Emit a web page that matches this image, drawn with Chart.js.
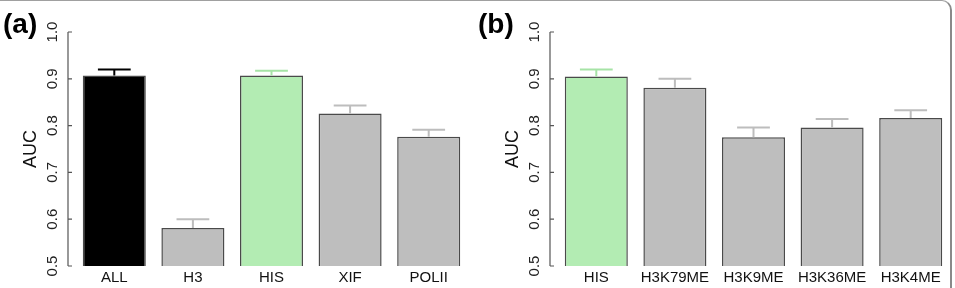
<!DOCTYPE html>
<html>
<head>
<meta charset="utf-8">
<script src="https://cdn.jsdelivr.net/npm/chart.js@4"></script>
<style>
  html, body { margin: 0; padding: 0; background: #fff; }
  #wrap { position: relative; width: 955px; height: 288px; overflow: hidden; }
  #frame { position: absolute; left: -20px; top: 0; width: 972px; height: 320px;
           border-top: 1.5px solid #a0a0a0; border-right: 2px solid #8a8a8a;
           border-top-right-radius: 10px; box-sizing: border-box; }
  canvas { position: absolute; top: 0; }
  #cA { left: 0; }
  #cB { left: 477px; }
</style>
</head>
<body>
<div id="wrap">
  <div id="frame"></div>
  <canvas id="cA" width="477" height="288"></canvas>
  <canvas id="cB" width="478" height="288"></canvas>
</div>
<script>
// datos
const catsA = ["ALL", "H3", "HIS", "XIF", "POLII"];
const aucA = [0.907, 0.581, 0.907, 0.826, 0.776];
const errTopA = [0.920, 0.600, 0.917, 0.843, 0.791];

const catsB = ["HIS", "H3K79ME", "H3K9ME", "H3K36ME", "H3K4ME"];
const aucB = [0.905, 0.881, 0.775, 0.796, 0.816];
const errTopB = [0.920, 0.900, 0.796, 0.814, 0.833];

const yTicks = [0.5, 0.6, 0.7, 0.8, 0.9, 1.0];

const NEGRO = "#000000";
const VERDE = "#b3ecb3";
const GRIS = "#bebebe";

function colorBarra(c) {
  if (c === "ALL") return NEGRO;
  if (c === "HIS") return VERDE;
  return GRIS;
}
function colorError(c) {
  if (c === "ALL") return "#000000";
  if (c === "HIS") return "#a6e3a6";
  return "#bdbdbd";
}

// eje y estilo R + barras de error + etiqueta del panel
const ejeR = {
  id: "ejeR",
  afterDatasetsDraw(chart, args, opts) {
    const ctx = chart.ctx;
    const y = chart.scales.y;
    const x = chart.scales.x;
    const ax = chart.chartArea.left - opts.gap;

    // barras de error
    const meta = chart.getDatasetMeta(0);
    opts.errTop.forEach((v, i) => {
      const bar = meta.data[i];
      const yt = y.getPixelForValue(v);
      const yb = y.getPixelForValue(opts.vals[i]);
      const half = bar.width * 0.26;
      ctx.save();
      ctx.strokeStyle = colorError(opts.cats[i]);
      ctx.lineWidth = 2;
      ctx.beginPath();
      ctx.moveTo(bar.x, yb);
      ctx.lineTo(bar.x, yt);
      ctx.moveTo(bar.x - half, yt);
      ctx.lineTo(bar.x + half, yt);
      ctx.stroke();
      ctx.restore();
    });

    // linea del eje y marcas
    ctx.save();
    ctx.strokeStyle = "#555";
    ctx.lineWidth = 1.2;
    ctx.beginPath();
    ctx.moveTo(ax, y.getPixelForValue(yTicks[0]));
    ctx.lineTo(ax, y.getPixelForValue(yTicks[yTicks.length - 1]));
    yTicks.forEach(t => {
      const py = y.getPixelForValue(t);
      ctx.moveTo(ax, py);
      ctx.lineTo(ax + 4, py);
    });
    ctx.stroke();

    // etiquetas rotadas
    ctx.fillStyle = "#222";
    ctx.font = "15px 'Liberation Sans', Arial, sans-serif";
    ctx.textAlign = "center";
    ctx.textBaseline = "middle";
    yTicks.forEach(t => {
      const py = y.getPixelForValue(t);
      ctx.save();
      ctx.translate(ax - 15.5, py);
      ctx.rotate(-Math.PI / 2);
      ctx.fillText(t.toFixed(1), 0, 0);
      ctx.restore();
    });

    // titulo del eje
    ctx.font = "18px 'Liberation Sans', Arial, sans-serif";
    ctx.fillStyle = "#111";
    ctx.save();
    ctx.translate(ax - 36.5, (y.top + y.bottom) / 2);
    ctx.rotate(-Math.PI / 2);
    ctx.fillText("AUC", 0, 0);
    ctx.restore();

    // etiqueta del panel
    ctx.font = "bold 28px 'Liberation Sans', Arial, sans-serif";
    ctx.textAlign = "left";
    ctx.textBaseline = "alphabetic";
    ctx.fillStyle = "#000";
    ctx.fillText(opts.panel, opts.panelX, 33);
    ctx.restore();
  }
};

function crearPanel(id, cats, vals, errTop, panel, padLeft, padRight, panelX) {
  return new Chart(document.getElementById(id), {
    type: "bar",
    data: {
      labels: cats,
      datasets: [{
        data: vals,
        backgroundColor: cats.map(colorBarra),
        borderColor: "#4a4a4a",
        borderWidth: 1.5,
        borderSkipped: false,
        barPercentage: 0.802,
        categoryPercentage: 1.0
      }]
    },
    options: {
      responsive: false,
      animation: false,
      layout: { padding: { left: padLeft, right: padRight, top: 32, bottom: 0 } },
      plugins: {
        legend: { display: false },
        tooltip: { enabled: false },
        ejeR: { gap: 7, cats: cats, vals: vals, errTop: errTop, panel: panel, panelX: panelX }
      },
      scales: {
        y: { display: false, min: 0.5, max: 1.0 },
        x: {
          grid: { display: false, drawTicks: false },
          border: { display: false },
          ticks: {
            color: "#111",
            padding: 3,
            font: { size: 15, family: "'Liberation Sans', Arial, sans-serif" },
            maxRotation: 0,
            autoSkip: false
          },
          afterFit(s) { s.height = 22; }
        }
      }
    },
    plugins: [ejeR]
  });
}

crearPanel("cA", catsA, aucA, errTopA, "(a)", 75, 9, 3);
crearPanel("cB", catsB, aucB, errTopB, "(b)", 80, 5, 1);
</script>
</body>
</html>
